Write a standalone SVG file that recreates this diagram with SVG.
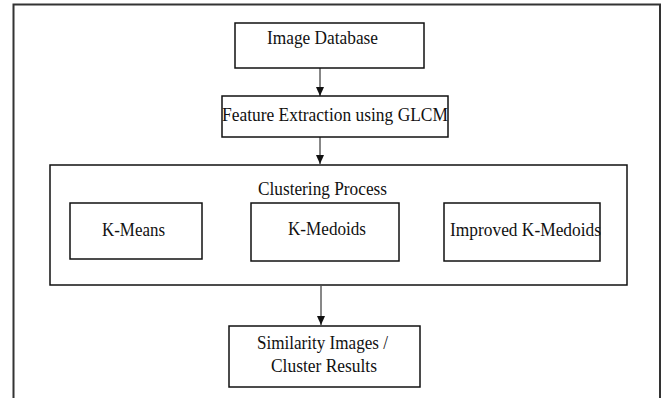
<svg xmlns="http://www.w3.org/2000/svg" width="663" height="398" viewBox="0 0 663 398">
<defs>
<style>
.box{fill:#fff;stroke:#111;stroke-width:1.5}
.t{font-family:"Liberation Serif","Times New Roman",serif;font-size:19px;fill:#111}
.c{stroke:#111;stroke-width:1;fill:none}
</style>
<marker id="ah" markerWidth="10" markerHeight="10" refX="9" refY="5" orient="auto" markerUnits="userSpaceOnUse">
<path d="M0,1 L9,5 L0,9 Z" fill="#111"/>
</marker>
</defs>
<rect width="663" height="398" fill="#fff"/>
<rect x="13.5" y="4.5" width="646.5" height="410" fill="none" stroke="#333" stroke-width="2"/>
<g id="n-image-db">
<rect class="box" x="235" y="23" width="189" height="45"/>
<text class="t" x="267" y="44" textLength="111" lengthAdjust="spacingAndGlyphs">Image Database</text>
</g>
<g id="n-feature">
<rect class="box" x="222" y="96" width="226" height="41"/>
<text class="t" x="222" y="121" textLength="226" lengthAdjust="spacingAndGlyphs">Feature Extraction using GLCM</text>
</g>
<g id="n-clustering">
<rect class="box" x="50" y="165" width="577" height="120"/>
<text class="t" x="258" y="195" textLength="129" lengthAdjust="spacingAndGlyphs">Clustering Process</text>
</g>
<g id="n-kmeans">
<rect class="box" x="70" y="203" width="132" height="56"/>
<text class="t" x="102" y="236" textLength="63" lengthAdjust="spacingAndGlyphs">K-Means</text>
</g>
<g id="n-kmedoids">
<rect class="box" x="251" y="203" width="148" height="58"/>
<text class="t" x="288" y="235" textLength="78" lengthAdjust="spacingAndGlyphs">K-Medoids</text>
</g>
<g id="n-improved">
<rect class="box" x="444" y="203" width="156" height="58"/>
<text class="t" x="450" y="236" textLength="151" lengthAdjust="spacingAndGlyphs">Improved K-Medoids</text>
</g>
<g id="n-results">
<rect class="box" x="229" y="326" width="191" height="61"/>
<text class="t" x="257" y="349" textLength="131" lengthAdjust="spacingAndGlyphs">Similarity Images /</text>
<text class="t" x="271" y="372" textLength="106" lengthAdjust="spacingAndGlyphs">Cluster Results</text>
</g>
<g id="connectors">
<line class="c" x1="320" y1="68" x2="320" y2="96" marker-end="url(#ah)"/>
<line class="c" x1="320" y1="137" x2="320" y2="164" marker-end="url(#ah)"/>
<line class="c" x1="321" y1="286" x2="321" y2="325" marker-end="url(#ah)"/>
</g>
</svg>
